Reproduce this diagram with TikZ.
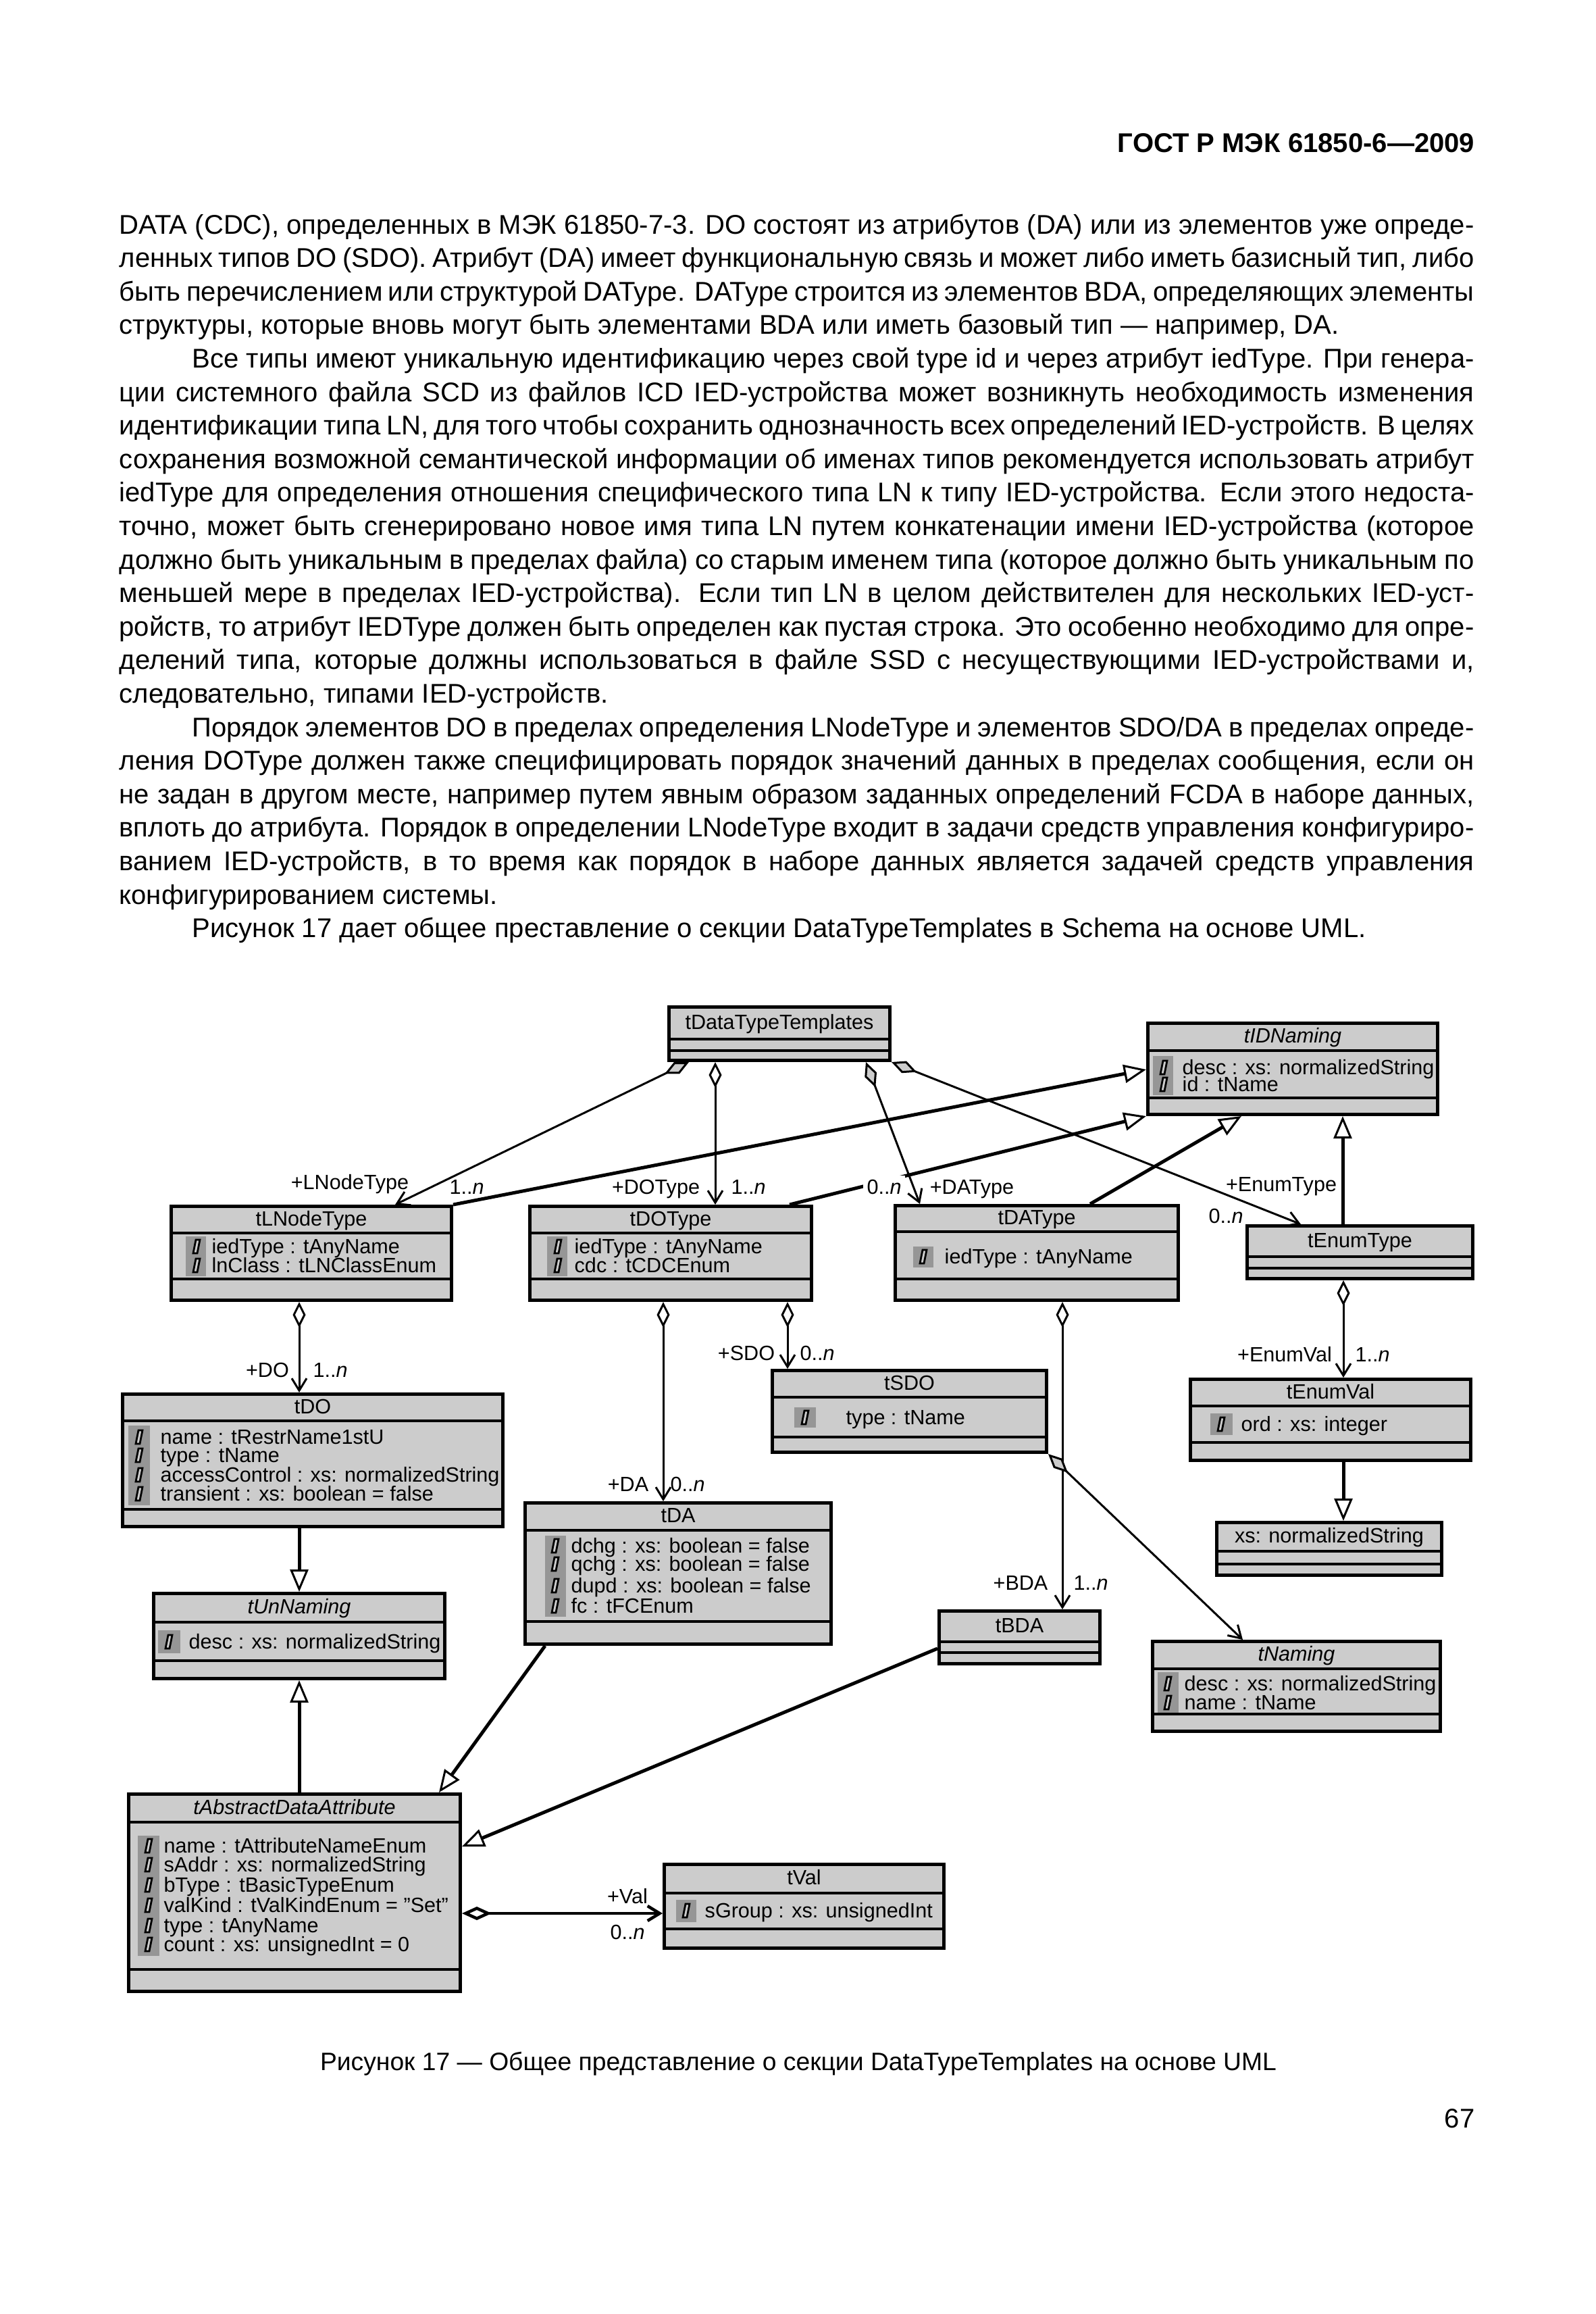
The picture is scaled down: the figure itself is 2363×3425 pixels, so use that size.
\documentclass[tikz,border=0pt]{standalone}
\usepackage{fontspec}
\setmainfont{Liberation Sans}
\usepackage{graphicx}
\usetikzlibrary{arrows.meta,fit}
\definecolor{boxgray}{RGB}{204,204,204}
\definecolor{stripgray}{RGB}{150,150,150}
\newsavebox\lbox
\newlength\tw \setlength\tw{200.6mm}
\newlength\twi \setlength\twi{189.8mm}
\newcommand\jl[2]{\sbox\lbox{#2}\ifdim\wd\lbox>\dimexpr#1+4mm\relax\resizebox{#1}{\height}{#2}\else\makebox[#1][s]{#2}\fi}
\newcommand\bodyJ[3]{\node[bodytext] (#1) at (176,{346+49.6*#2}) {\jl{\tw}{#3}};}
\newcommand\bodyJI[3]{\node[bodytext] (#1) at (284,{346+49.6*#2}) {\jl{\twi}{#3}};}
\newcommand\bodyL[3]{\node[bodytext] (#1) at (176,{346+49.6*#2}) {#3};}
\newcommand\bodyLI[3]{\node[bodytext] (#1) at (284,{346+49.6*#2}) {#3};}
\newcommand\umlclass[8]{%
  \node[classbox, fit={(#2+2.5,#3+2.5) (#4-2.5,#5-2.5)}] (#1) {};
  \draw[sepline] (#2+2.5,#6) -- (#4-2.5,#6);
  \draw[sepline] (#2+2.5,#7) -- (#4-2.5,#7);
  \node[dtext, anchor=base] (#1-title) at ({(#2+#4)/2},{(#3+#6)/2+10}) {#8};}
\newcommand\attr[5]{%
  \draw[icon] (#2-5,#4+10) -- (#2+1,#4+10) -- (#2+5,#4-10) -- (#2-1,#4-10) -- cycle;
  \node[dtext, anchor=base west] (#1) at (#3,#4+10) {#5};}
\tikzset{
  bodytext/.style={font=\fontsize{11.4pt}{14pt}\selectfont, inner sep=0pt, anchor=base west},
  dtext/.style={font=\fontsize{8.7pt}{10pt}\selectfont, inner sep=0pt},
  classbox/.style={draw, line width=0.5mm, fill=boxgray, inner sep=0pt},
  sepline/.style={line width=0.45mm},
  icon/.style={draw, line width=0.28mm, fill=boxgray},
  assoc/.style={line width=0.3mm},
  gen/.style={line width=0.5mm, -{Triangle[length=3.3mm,width=2.7mm,fill=white,line width=0.3mm]}},
  agg/.style={assoc, {Diamond[length=3.8mm,width=1.9mm,fill=white]}-{Straight Barb[length=1.8mm,width=2.2mm]}},
  agggray/.style={assoc, {Diamond[length=4mm,width=1.9mm,fill=boxgray]}-{Straight Barb[length=1.8mm,width=2.2mm]}},
  lbl/.style={dtext, anchor=base},
}
\begin{document}
\begin{tikzpicture}[x=0.1mm,y=-0.1mm]
\fill[white] (0,0) rectangle (2363,3425);
\useasboundingbox (0,0) rectangle (2363,3425);

% header
\node[inner sep=0pt, anchor=base east, font={\fontsize{11.4pt}{14pt}\selectfont\bfseries}] (hdr) at (2184,225) {ГОСТ Р МЭК 61850-6—2009};

% body text
\bodyJ{b0}{0}{DATA (CDC), определенных в  МЭК 61850-7-3. DO состоят из атрибутов (DA) или из элементов уже опреде-}
\bodyJ{b1}{1}{ленных типов DO (SDO). Атрибут (DA) имеет функциональную связь и может либо иметь базисный тип, либо}
\bodyJ{b2}{2}{быть перечислением или структурой DAType. DAType строится из элементов BDA, определяющих элементы}
\bodyL{b3}{3}{структуры, которые вновь могут быть элементами BDA или иметь базовый тип — например, DA.}
\bodyJI{b4}{4}{Все типы имеют уникальную идентификацию через свой type id и через атрибут iedType. При генера-}
\bodyJ{b5}{5}{ции системного файла SCD из файлов ICD IED-устройства может возникнуть необходимость изменения}
\bodyJ{b6}{6}{идентификации типа LN, для того чтобы сохранить однозначность всех определений IED-устройств. В целях}
\bodyJ{b7}{7}{сохранения возможной семантической информации об именах типов рекомендуется использовать атрибут}
\bodyJ{b8}{8}{iedType для определения отношения специфического типа LN к типу IED-устройства. Если этого недоста-}
\bodyJ{b9}{9}{точно, может быть сгенерировано новое имя типа LN путем конкатенации имени IED-устройства (которое}
\bodyJ{b10}{10}{должно быть уникальным в пределах файла) со старым именем типа (которое должно быть уникальным по}
\bodyJ{b11}{11}{меньшей мере в пределах IED-устройства). Если тип LN в целом действителен для нескольких IED-уст-}
\bodyJ{b12}{12}{ройств, то атрибут IEDType должен быть определен как пустая строка. Это особенно необходимо для опре-}
\bodyJ{b13}{13}{делений типа, которые должны использоваться в файле SSD с несуществующими IED-устройствами и,}
\bodyL{b14}{14}{следовательно, типами IED-устройств.}
\bodyJI{b15}{15}{Порядок элементов DO в пределах определения LNodeType и элементов SDO/DA в пределах опреде-}
\bodyJ{b16}{16}{ления DOType должен также специфицировать порядок значений данных в пределах сообщения, если он}
\bodyJ{b17}{17}{не задан в другом месте, например путем явным образом заданных определений FCDA в наборе данных,}
\bodyJ{b18}{18}{вплоть до атрибута. Порядок в определении LNodeType входит в задачи средств управления конфигуриро-}
\bodyJ{b19}{19}{ванием IED-устройств, в то время как порядок в наборе данных является задачей средств управления}
\bodyL{b20}{20}{конфигурированием системы.}
\bodyLI{b21}{21}{Рисунок 17 дает общее преставление о секции DataTypeTemplates в Schema на основе UML.}

% classes
\umlclass{tDTT}{988}{1488}{1320}{1572}{1538}{1555}{tDataTypeTemplates}
\umlclass{tIDNaming}{1697}{1512}{2131}{1652}{1555}{1625}{\textit{tIDNaming}}
\umlclass{tLNodeType}{251}{1783}{671}{1927}{1825}{1893}{tLNodeType}
\umlclass{tDOType}{782}{1783}{1204}{1927}{1825}{1893}{tDOType}
\umlclass{tDAType}{1323}{1782}{1747}{1927}{1823}{1893}{tDAType}
\umlclass{tEnumType}{1844}{1812}{2183}{1895}{1860}{1877}{tEnumType}
\umlclass{tDO}{179}{2061}{747}{2262}{2103}{2234}{tDO}
\umlclass{tSDO}{1141}{2026}{1552}{2152}{2068}{2127}{tSDO}
\umlclass{tEnumVal}{1760}{2039}{2180}{2164}{2081}{2135}{tEnumVal}
\umlclass{xsNS}{1799}{2251}{2137}{2334}{2296}{2315}{xs: normalizedString}
\umlclass{tDA}{775}{2222}{1233}{2436}{2265}{2400}{tDA}
\umlclass{tUnNaming}{225}{2356}{661}{2487}{2401}{2458}{\textit{tUnNaming}}
\umlclass{tBDA}{1388}{2382}{1631}{2465}{2430}{2446}{tBDA}
\umlclass{tNaming}{1704}{2427}{2135}{2565}{2470}{2537}{\textit{tNaming}}
\umlclass{tADA}{188}{2653}{684}{2950}{2697}{2915}{\textit{tAbstractDataAttribute}}
\umlclass{tVal}{981}{2757}{1400}{2886}{2802}{2855}{tVal}

% attributes
\fill[stripgray] (1707,1563) rectangle (1737,1621);
\attr{aIDN1}{1723}{1750}{1580}{desc : xs: normalizedString}
\attr{aIDN2}{1723}{1750}{1605}{id : tName}

\fill[stripgray] (275,1830) rectangle (305,1889);
\attr{aLN1}{291}{313}{1845}{iedType : tAnyName}
\attr{aLN2}{291}{313}{1873}{lnClass : tLNClassEnum}

\fill[stripgray] (810,1830) rectangle (840,1889);
\attr{aDOT1}{826}{850}{1845}{iedType : tAnyName}
\attr{aDOT2}{826}{850}{1873}{cdc : tCDCEnum}

\fill[stripgray] (1352,1845) rectangle (1382,1876);
\attr{aDAT1}{1367}{1398}{1860}{iedType : tAnyName}

\fill[stripgray] (190,2110) rectangle (222,2228);
\attr{aDO1}{206}{237}{2127}{name : tRestrName1stU}
\attr{aDO2}{206}{237}{2154}{type : tName}
\attr{aDO3}{206}{237}{2183}{accessControl : xs: normalizedString}
\attr{aDO4}{206}{237}{2211}{transient : xs: boolean = false}

\fill[stripgray] (1176,2083) rectangle (1208,2113);
\attr{aSDO1}{1192}{1252}{2098}{type : tName}

\fill[stripgray] (1792,2092) rectangle (1825,2124);
\attr{aEV1}{1808}{1837}{2108}{ord : xs: integer}

\fill[stripgray] (807,2273) rectangle (838,2393);
\attr{aDA1}{822}{845}{2288}{dchg : xs: boolean = false}
\attr{aDA2}{822}{845}{2315}{qchg : xs: boolean = false}
\attr{aDA3}{822}{845}{2347}{dupd : xs: boolean = false}
\attr{aDA4}{822}{845}{2377}{fc : tFCEnum}

\fill[stripgray] (234,2413) rectangle (267,2447);
\attr{aUN1}{250}{279}{2430}{desc : xs: normalizedString}

\fill[stripgray] (1714,2475) rectangle (1745,2535);
\attr{aN1}{1729}{1753}{2492}{desc : xs: normalizedString}
\attr{aN2}{1729}{1753}{2520}{name : tName}

\fill[stripgray] (204,2717) rectangle (236,2895);
\attr{aADA1}{220}{242}{2732}{name : tAttributeNameEnum}
\attr{aADA2}{220}{242}{2760}{sAddr : xs: normalizedString}
\attr{aADA3}{220}{242}{2790}{bType : tBasicTypeEnum}
\attr{aADA4}{220}{242}{2820}{valKind : tValKindEnum = "Set"}
\attr{aADA5}{220}{242}{2850}{type : tAnyName}
\attr{aADA6}{220}{242}{2878}{count : xs: unsignedInt = 0}

\fill[stripgray] (1001,2812) rectangle (1031,2845);
\attr{aV1}{1016}{1043}{2828}{sGroup : xs: unsignedInt}

% connectors
\draw[agggray] (tDTT.south -| 1020,0) -- (tLNodeType.north -| 585,0);
\draw[agg] (tDTT.south -| 1059,0) -- (tDOType.north -| 1059,0);
\draw[agggray] (tDTT.south -| 1282,0) -- (tDAType.north -| 1362,0);
\draw[agggray] (tDTT.south east) -- (tEnumType.north -| 1926,0);
\draw[gen] (tLNodeType.north east) -- (tIDNaming.west |- 0,1583);
\draw[gen] (tDOType.north -| 1169,0) -- (tIDNaming.south west);
\draw[gen] (tDAType.north -| 1614,0) -- (tIDNaming.south -| 1838,0);
\draw[gen] (tEnumType.north -| 1988,0) -- (tIDNaming.south -| 1988,0);
\draw[agg] (tLNodeType.south -| 443,0) -- (tDO.north -| 443,0);
\draw[agg] (tDOType.south -| 982,0) -- (tDA.north -| 982,0);
\draw[agg] (tDOType.south -| 1166,0) -- (tSDO.north -| 1166,0);
\draw[agg] (tDAType.south -| 1573,0) -- (tBDA.north -| 1573,0);
\draw[agg] (tEnumType.south -| 1989,0) -- (tEnumVal.north -| 1989,0);
\draw[gen] (tEnumVal.south -| 1989,0) -- (xsNS.north -| 1989,0);
\draw[gen] (tDO.south -| 443,0) -- (tUnNaming.north -| 443,0);
\draw[gen] (tADA.north -| 443,0) -- (tUnNaming.south -| 443,0);
\draw[gen] (tDA.south -| 807,0) -- (tADA.north -| 650,0);
\draw[gen] (tBDA.west |- 0,2440) -- (tADA.east |- 0,2733);
\draw[agggray] (tSDO.south east) -- (tNaming.north -| 1840,0);
\draw[line width=0.45mm, {Diamond[length=4.4mm,width=2mm,fill=white]}-{Straight Barb[length=1.8mm,width=2.2mm]}] (tADA.east |- 0,2832) -- (tVal.west |- 0,2832);

% role / multiplicity labels
\node[lbl] (l1) at (518,1760) {+LNodeType};
\node[lbl] (l2) at (691,1767) {1..\textit{n}};
\node[lbl] (l3) at (971,1767) {+DOType};
\node[lbl] (l4) at (1108,1767) {1..\textit{n}};
\node[lbl, fill=white, inner sep=1.5pt] (l5) at (1309,1767) {0..\textit{n}};
\node[lbl] (l6) at (1439,1767) {+DAType};
\node[lbl] (l7) at (1897,1763) {+EnumType};
\node[lbl] (l8) at (1815,1810) {0..\textit{n}};
\node[lbl] (l9) at (396,2038) {+DO};
\node[lbl] (l10) at (489,2038) {1..\textit{n}};
\node[lbl] (l11) at (1105,2013) {+SDO};
\node[lbl] (l12) at (1210,2013) {0..\textit{n}};
\node[lbl] (l13) at (930,2207) {+DA};
\node[lbl] (l14) at (1018,2207) {0..\textit{n}};
\node[lbl] (l15) at (1511,2353) {+BDA};
\node[lbl] (l16) at (1615,2353) {1..\textit{n}};
\node[lbl] (l17) at (1902,2015) {+EnumVal};
\node[lbl] (l18) at (2032,2015) {1..\textit{n}};
\node[lbl] (l19) at (929,2817) {+Val};
\node[lbl] (l20) at (929,2870) {0..\textit{n}};

% caption and page number
\node[inner sep=0pt, anchor=base, font=\fontsize{10.6pt}{13pt}\selectfont] (cap) at (1182,3064) {Рисунок 17 — Общее представление о секции DataTypeTemplates на основе UML};
\node[inner sep=0pt, anchor=base east, font=\fontsize{11.4pt}{14pt}\selectfont] (pg) at (2184,3149) {67};
\end{tikzpicture}
\end{document}
